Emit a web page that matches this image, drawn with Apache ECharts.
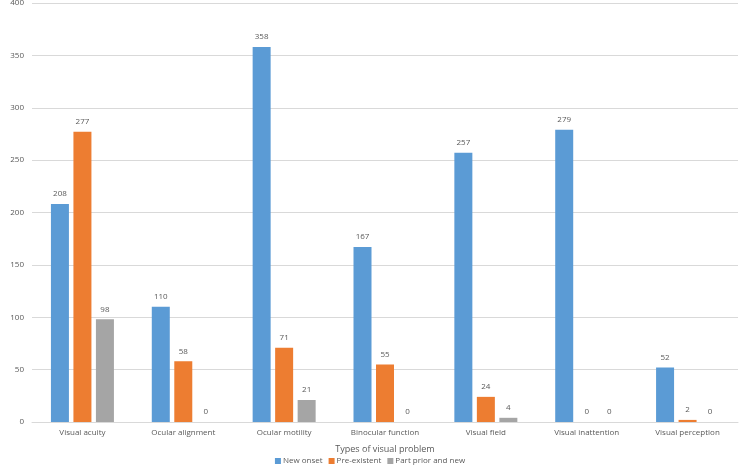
<!DOCTYPE html>
<html><head><meta charset="utf-8">
<script src="https://cdn.jsdelivr.net/npm/echarts@6/dist/echarts.min.js"></script>
<style>html,body{margin:0;padding:0;background:#fff}#c{width:740px;height:474px}</style>
</head><body><div id="c"></div>
<script>
const categories = ["Visual acuity","Ocular alignment","Ocular motility","Binocular function","Visual field","Visual inattention","Visual perception"];
const newOnset = [208,110,358,167,257,279,52];
const preExistent = [277,58,71,55,24,0,2];
const partPriorNew = [98,0,21,0,4,0,0];
const yTicks = {min:0,max:400,interval:50};

const chart = echarts.init(document.getElementById('c'));
const font = 'Open Sans';
const txt = '#595959';
const lbl = {show:true,position:'top',color:txt,fontSize:8,fontFamily:font,distance:6};
function s(name,data,color){return {name,type:'bar',data,barWidth:18,barGap:'25%',itemStyle:{color},label:lbl};}
chart.setOption({
  animation:false,
  grid:{left:32,right:2,top:3,bottom:52,containLabel:false,outerBoundsMode:'none'},
  legend:{bottom:4,left:'center',itemWidth:6,itemHeight:6,itemGap:6,icon:'rect',
    textStyle:{color:txt,fontSize:8,fontFamily:font,padding:[0,0,0,-3]},
    data:['New onset','Pre-existent','Part prior and new']},
  xAxis:{type:'category',data:categories,name:'Types of visual problem',nameLocation:'middle',nameGap:23,
    nameTextStyle:{color:txt,fontSize:9,fontFamily:font},
    axisLine:{lineStyle:{color:'#D9D9D9'}},axisTick:{show:false},
    axisLabel:{color:txt,fontSize:8,fontFamily:font,margin:7,interval:0}},
  yAxis:{type:'value',min:yTicks.min,max:yTicks.max,interval:yTicks.interval,
    name:'Number of stroke survivors',nameLocation:'middle',nameGap:24,
    nameTextStyle:{color:txt,fontSize:8.5,fontFamily:font},
    axisLine:{show:false},axisTick:{show:false},
    axisLabel:{color:txt,fontSize:8,fontFamily:font,margin:8},
    splitLine:{lineStyle:{color:'#D9D9D9'}}},
  series:[s('New onset',newOnset,'#5B9BD5'),s('Pre-existent',preExistent,'#ED7D31'),s('Part prior and new',partPriorNew,'#A5A5A5')]
});
</script></body></html>
